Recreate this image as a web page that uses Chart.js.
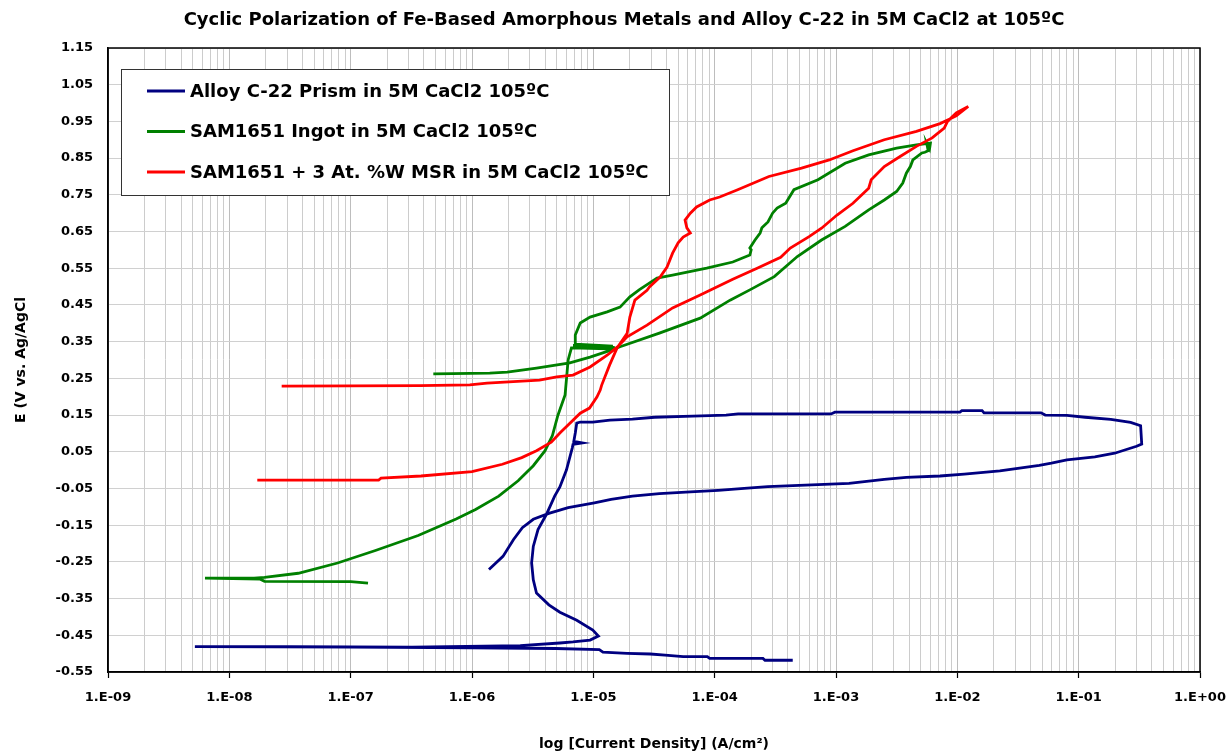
<!DOCTYPE html>
<html>
<head>
<meta charset="utf-8">
<script src="https://cdn.jsdelivr.net/npm/chart.js@4.4.0/dist/chart.umd.min.js"></script>
<style>
html,body{margin:0;padding:0;background:#fff;}
#wrap{width:1228px;height:754px;position:relative;}
</style>
</head>
<body>
<div id="wrap"><canvas id="c" width="1228" height="754"></canvas></div>
<script>
// ---------- Text ----------
const chartTitle = 'Cyclic Polarization of Fe-Based Amorphous Metals and Alloy C-22 in 5M CaCl2 at 105ºC';
const xAxisTitle = 'log [Current Density] (A/cm²)';
const yAxisTitle = 'E (V vs. Ag/AgCl';
const seriesNames = [
  'Alloy C-22 Prism in 5M CaCl2 105ºC',
  'SAM1651 Ingot in 5M CaCl2 105ºC',
  'SAM1651 + 3 At. %W MSR in 5M CaCl2 105ºC'
];

// ---------- Ticks ----------
const xDecades = [1e-9, 1e-8, 1e-7, 1e-6, 1e-5, 1e-4, 1e-3, 1e-2, 1e-1, 1e0];
const xTickLabels = ['1.E-09','1.E-08','1.E-07','1.E-06','1.E-05','1.E-04','1.E-03','1.E-02','1.E-01','1.E+00'];
const xMinorSteps = [2, 3, 4, 5, 6, 7, 8, 9];
const yTickValues = [-0.55,-0.45,-0.35,-0.25,-0.15,-0.05,0.05,0.15,0.25,0.35,0.45,0.55,0.65,0.75,0.85,0.95,1.05,1.15];

// ---------- Series: Alloy C-22 (A/cm², V) ----------
const c22Current = [
  4.4e-4,2.6e-4,2.5e-4,9.1e-5,8.7e-5,5.5e-5,3.9e-5,2.95e-5,1.9e-5,1.2e-5,1.12e-5,4.9e-6,1.0e-6,1.0e-7,5.2e-9,
  3.2e-8,3.2e-7,2.5e-6,5.3e-6,6.8e-6,9.4e-6,1.1e-5,9.9e-6,7.3e-6,5.3e-6,4.3e-6,3.4e-6,3.2e-6,3.1e-6,3.2e-6,
  3.5e-6,4.1e-6,4.8e-6,5.3e-6,6.0e-6,6.7e-6,6.8e-6,8.1e-6,6.9e-6,7.1e-6,7.3e-6,7.8e-6,9.9e-6,1.37e-5,2.1e-5,
  3.2e-5,6.6e-5,1.24e-4,1.56e-4,9.1e-4,9.8e-4,1.05e-2,1.09e-2,1.6e-2,1.66e-2,4.9e-2,5.3e-2,8.0e-2,0.113,0.184,
  0.268,0.324,0.331,0.30,0.198,0.136,0.080,0.0596,0.0474,0.0224,0.0114,7.2e-3,3.8e-3,2.5e-3,1.28e-3,
  6.3e-4,2.74e-4,1.75e-4,1.07e-4,6.3e-5,3.5e-5,2.1e-5,1.4e-5,1.02e-5,6.2e-6,4.3e-6,3.2e-6,2.6e-6,2.2e-6,1.8e-6,1.38e-6
];
const c22Potential = [
  -0.518,-0.518,-0.513,-0.513,-0.508,-0.508,-0.504,-0.501,-0.499,-0.496,-0.489,-0.486,-0.484,-0.482,-0.481,
  -0.481,-0.482,-0.478,-0.471,-0.468,-0.463,-0.452,-0.436,-0.409,-0.387,-0.367,-0.335,-0.299,-0.253,-0.208,
  -0.162,-0.121,-0.071,-0.046,0.0,0.06,0.07,0.074,0.078,0.101,0.128,0.131,0.131,0.136,0.139,
  0.144,0.147,0.150,0.153,0.153,0.158,0.158,0.162,0.162,0.156,0.156,0.150,0.149,0.144,0.138,
  0.130,0.121,0.071,0.065,0.046,0.036,0.028,0.019,0.013,-0.002,-0.011,-0.016,-0.020,-0.025,-0.036,
  -0.040,-0.045,-0.050,-0.055,-0.059,-0.064,-0.071,-0.080,-0.089,-0.102,-0.118,-0.134,-0.157,-0.189,-0.235,-0.271
];

// ---------- Series: SAM1651 Ingot ----------
const ingotCurrent = [
  1.39e-7,1.0e-7,1.95e-8,1.8e-8,6.3e-9,1.6e-8,1.95e-8,3.7e-8,7.8e-8,1.6e-7,3.6e-7,7.4e-7,1.07e-6,1.66e-6,2.4e-6,
  3.2e-6,4.0e-6,4.6e-6,5.1e-6,5.85e-6,6.2e-6,6.6e-6,1.57e-5,7.0e-6,1.5e-5,6.8e-6,1.45e-5,7.1e-6,7.1e-6,7.8e-6,
  9.4e-6,1.3e-5,1.66e-5,2.0e-5,2.4e-5,3.35e-5,4.5e-5,8.6e-5,1.41e-4,1.95e-4,2.0e-4,1.95e-4,2.15e-4,2.37e-4,2.45e-4,
  2.75e-4,3.0e-4,3.27e-4,3.85e-4,4.5e-4,7.1e-4,1.19e-3,1.86e-3,3.16e-3,4.6e-3,6.0e-3,5.9e-3,5.6e-3,5.75e-3,5.4e-3,
  5.1e-3,4.3e-3,4.1e-3,3.8e-3,3.55e-3,3.16e-3,2.5e-3,1.86e-3,1.19e-3,7.6e-4,4.8e-4,3.1e-4,1.95e-4,1.34e-4,7.6e-5,
  3.55e-5,1.66e-5,1.4e-5,9.4e-6,6.4e-6,3.4e-6,1.95e-6,1.4e-6,4.8e-7
];
const ingotPotential = [
  -0.308,-0.304,-0.303,-0.297,-0.294,-0.294,-0.292,-0.281,-0.253,-0.219,-0.178,-0.133,-0.107,-0.071,-0.029,
  0.012,0.053,0.094,0.149,0.205,0.30,0.333,0.330,0.336,0.334,0.340,0.338,0.343,0.368,0.401,
  0.417,0.431,0.444,0.472,0.492,0.523,0.531,0.55,0.567,0.586,0.60,0.605,0.627,0.646,0.66,
  0.676,0.70,0.714,0.727,0.764,0.791,0.836,0.859,0.877,0.886,0.891,0.875,0.89,0.87,0.866,
  0.864,0.845,0.827,0.809,0.782,0.759,0.736,0.709,0.664,0.627,0.582,0.527,0.491,0.463,0.414,
  0.374,0.336,0.327,0.308,0.292,0.278,0.267,0.264,0.262
];

// ---------- Series: SAM1651 + 3 At.% W MSR ----------
const msrCurrent = [
  1.7e-8,6.3e-8,1.7e-7,1.78e-7,3.8e-7,1.0e-6,1.78e-6,2.57e-6,3.4e-6,4.5e-6,5.3e-6,7.8e-6,9.3e-6,1.07e-5,1.14e-5,
  1.17e-5,1.36e-5,1.57e-5,1.9e-5,2.0e-5,2.2e-5,2.77e-5,2.9e-5,3.55e-5,4.05e-5,4.5e-5,5.0e-5,5.5e-5,6.3e-5,5.9e-5,
  5.7e-5,6.3e-5,7.1e-5,9.1e-5,1.1e-4,1.53e-4,2.8e-4,5.2e-4,8.8e-4,1.38e-3,2.5e-3,4.6e-3,7.2e-3,9.8e-3,1.23e-2,
  9.8e-3,8.3e-3,7.8e-3,6.2e-3,4.6e-3,3.4e-3,2.5e-3,1.95e-3,1.86e-3,1.38e-3,1.02e-3,7.6e-4,6.0e-4,4.2e-4,3.5e-4,
  2.24e-4,1.41e-4,7.6e-5,4.5e-5,2.77e-5,1.9e-5,1.57e-5,1.3e-5,9.4e-6,6.8e-6,5.0e-6,3.6e-6,1.33e-6,9.6e-7,3.7e-7,2.7e-8
];
const msrPotential = [
  -0.027,-0.027,-0.027,-0.022,-0.016,-0.004,0.016,0.034,0.053,0.076,0.101,0.155,0.169,0.199,0.218,
  0.231,0.286,0.333,0.373,0.417,0.463,0.49,0.499,0.526,0.553,0.591,0.619,0.635,0.646,0.66,
  0.681,0.70,0.717,0.736,0.744,0.763,0.80,0.823,0.845,0.87,0.90,0.923,0.944,0.965,0.991,
  0.973,0.95,0.932,0.905,0.882,0.855,0.827,0.791,0.768,0.727,0.695,0.659,0.636,0.605,0.58,
  0.55,0.52,0.477,0.442,0.395,0.363,0.335,0.313,0.281,0.259,0.254,0.245,0.237,0.232,0.230,0.229
];

const seriesColors = ['#000080', '#008000', '#FF0000'];

// ---------- Build ----------
function pairs(xs, ys) { return xs.map((x, i) => ({x: x, y: ys[i]})); }

const xGridTicks = [];
xDecades.forEach((d, i) => {
  xGridTicks.push({value: d, major: true, lbl: xTickLabels[i]});
  if (i < xDecades.length - 1) xMinorSteps.forEach(m => xGridTicks.push({value: m * d, major: false, lbl: ''}));
});

const FONT = "'DejaVu Sans', 'Liberation Sans', Arial, sans-serif";

const seriesData = [pairs(c22Current, c22Potential), pairs(ingotCurrent, ingotPotential), pairs(msrCurrent, msrPotential)];

const datasets = seriesData.map((d, i) => ({
  label: seriesNames[i],
  data: d,
  showLine: true,
  borderColor: seriesColors[i],
  backgroundColor: seriesColors[i],
  borderWidth: 2.8,
  pointRadius: 0,
  pointHoverRadius: 0,
  tension: 0,
  fill: false,
  order: 3 - i
}));

const customDraw = {
  id: 'customDraw',
  afterDraw(chart) {
    const ctx = chart.ctx;
    const a = chart.chartArea;
    ctx.save();
    // frame
    ctx.strokeStyle = '#000';
    ctx.lineWidth = 1.5;
    ctx.strokeRect(a.left, a.top, a.right - a.left, a.bottom - a.top);
    // title
    ctx.fillStyle = '#000';
    ctx.font = 'bold 18px ' + FONT;
    ctx.textAlign = 'center';
    ctx.textBaseline = 'middle';
    ctx.fillText(chartTitle, 624, 20);
    // legend
    const lx = a.left + 13, ly = a.top + 21, lw = 548, lh = 126;
    ctx.fillStyle = '#fff';
    ctx.fillRect(lx, ly, lw, lh);
    ctx.strokeStyle = '#333';
    ctx.lineWidth = 1;
    ctx.strokeRect(lx + 0.5, ly + 0.5, lw, lh);
    ctx.font = 'bold 18px ' + FONT;
    ctx.textAlign = 'left';
    chart.data.datasets.forEach((ds, i) => {
      const yy = ly + 22 + i * 40.5;
      ctx.strokeStyle = ds.borderColor;
      ctx.lineWidth = 3;
      ctx.beginPath();
      ctx.moveTo(lx + 26, yy);
      ctx.lineTo(lx + 64, yy);
      ctx.stroke();
      ctx.fillStyle = '#000';
      ctx.fillText(ds.label, lx + 69, yy + 1);
    });
    ctx.restore();
  }
};

new Chart(document.getElementById('c'), {
  type: 'scatter',
  data: {datasets: datasets},
  options: {
    responsive: false,
    animation: false,
    devicePixelRatio: 1,
    layout: {padding: {top: 48, right: 28, left: 0, bottom: 0}},
    plugins: {legend: {display: false}, tooltip: {enabled: false}, title: {display: false}},
    scales: {
      x: {
        type: 'logarithmic',
        position: 'bottom',
        min: 1e-9,
        max: 1,
        afterBuildTicks: s => { s.ticks = xGridTicks.map(t => ({value: t.value, major: t.major, lbl: t.lbl})); },
        afterFit: s => { s.height = 82; s.paddingLeft = 0; s.paddingRight = 0; },
        ticks: {
          autoSkip: false, maxRotation: 0, minRotation: 0, padding: 12,
          color: '#000', font: {family: FONT, size: 13, weight: 'bold'},
          callback: (v, i, ticks) => ticks[i].lbl || ''
        },
        grid: {
          color: c => (c.tick && c.tick.major) ? '#bdbdbd' : '#cccccc',
          lineWidth: 1,
          tickLength: 6,
          tickColor: c => (c.tick && c.tick.major) ? '#000' : 'rgba(0,0,0,0)',
          tickWidth: 1.2
        },
        border: {color: '#000', width: 1.5},
        title: {display: true, text: xAxisTitle, color: '#000', font: {family: FONT, size: 14, weight: 'bold'}, padding: {top: 4, bottom: 1}}
      },
      y: {
        type: 'linear',
        min: -0.55,
        max: 1.15,
        afterBuildTicks: s => { s.ticks = yTickValues.map(v => ({value: v})); },
        afterFit: s => { s.width = 108; s.paddingTop = 0; s.paddingBottom = 0; },
        ticks: {padding: 15, color: '#000', font: {family: FONT, size: 13, weight: 'bold'}, callback: v => Number(v).toFixed(2)},
        grid: {color: '#d0d0d0', lineWidth: 1, drawTicks: false},
        border: {color: '#000', width: 1.5},
        title: {display: true, text: yAxisTitle, color: '#000', font: {family: FONT, size: 14, weight: 'bold'}, padding: {top: 13, bottom: 0}}
      }
    }
  },
  plugins: [customDraw]
});
</script>
</body>
</html>
